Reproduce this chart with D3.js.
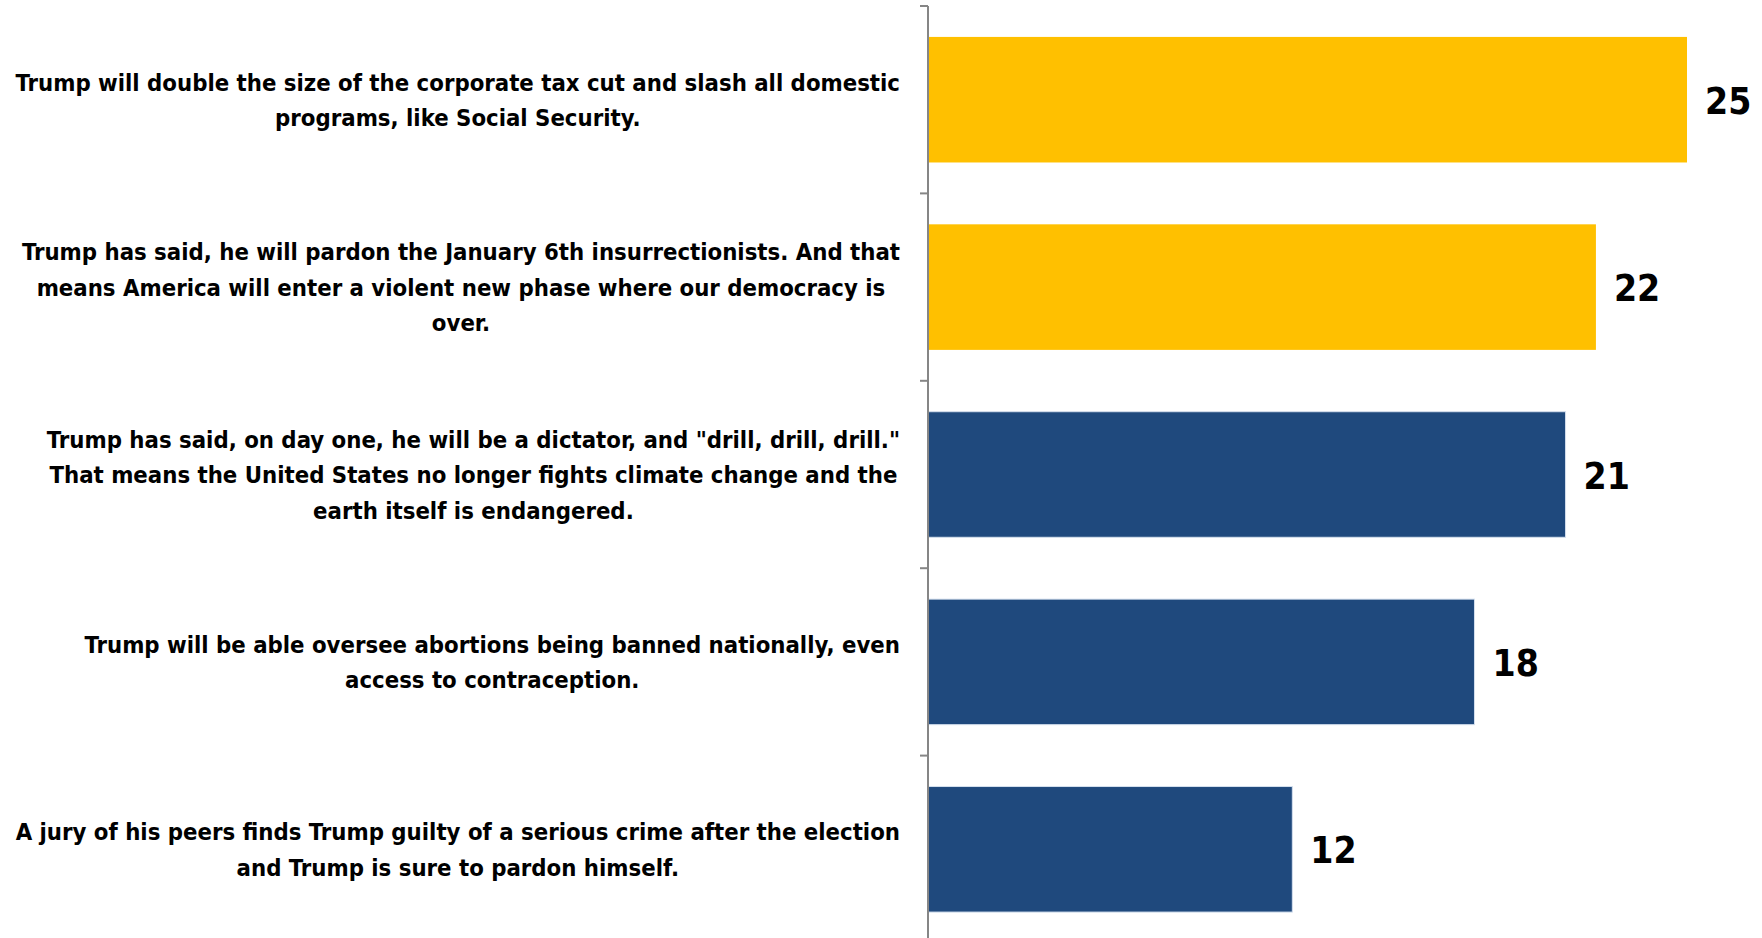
<!DOCTYPE html>
<html>
<head>
<meta charset="utf-8">
<script src="https://cdn.jsdelivr.net/npm/d3@7"></script>
<style>
  html, body { margin: 0; padding: 0; background: #fff; }
  svg { display: block; }
  .lbl { font-family: "DejaVu Sans Condensed", "DejaVu Sans", sans-serif; font-weight: bold; fill: #000; }
</style>
</head>
<body>
<svg id="chart" width="1762" height="938"></svg>
<script>
const categories = [
  "Trump will double the size of the corporate tax cut and slash all domestic programs, like Social Security.",
  "Trump has said, he will pardon the January 6th insurrectionists. And that means America will enter a violent new phase where our democracy is over.",
  "Trump has said, on day one, he will be a dictator, and \"drill, drill, drill.\" That means the United States no longer fights climate change and the earth itself is endangered.",
  "Trump will be able oversee abortions being banned nationally, even access to contraception.",
  "A jury of his peers finds Trump guilty of a serious crime after the election and Trump is sure to pardon himself."
];
const labelLines = [
  ["Trump will double the size of the corporate tax cut and slash all domestic", "programs, like Social Security."],
  ["Trump has said, he will pardon the January 6th insurrectionists. And that", "means America will enter a violent new phase where our democracy is", "over."],
  ["Trump has said, on day one, he will be a dictator, and \"drill, drill, drill.\"", "That means the United States no longer fights climate change and the", "earth itself is endangered."],
  ["Trump will be able oversee abortions being banned nationally, even", "access to contraception."],
  ["A jury of his peers finds Trump guilty of a serious crime after the election", "and Trump is sure to pardon himself."]
];
const values = [25, 22, 21, 18, 12];
const colors = ["#FFC000", "#FFC000", "#1F497D", "#1F497D", "#1F497D"];

const svg = d3.select("#chart");
const axisX = 928;
const plotTop = 6, plotBottom = 943;

const x = d3.scaleLinear().domain([0, 25]).range([axisX, 1687]);
const y = d3.scaleBand().domain(categories).range([plotTop, plotBottom]).paddingInner(0.33).paddingOuter(0.165);
const step = y.step();

// bars
svg.selectAll("rect.bar").data(categories).join("rect")
  .attr("class", "bar")
  .attr("x", x(0))
  .attr("y", d => y(d))
  .attr("width", (d, i) => x(values[i]) - x(0))
  .attr("height", y.bandwidth())
  .attr("fill", (d, i) => colors[i])
  .attr("stroke", (d, i) => colors[i] === "#FFC000" ? "none" : "#d5e0ee")
  .attr("stroke-width", 1);

// axis line and ticks at band boundaries
const axisG = svg.append("g");
axisG.append("line")
  .attr("x1", axisX).attr("x2", axisX)
  .attr("y1", plotTop).attr("y2", plotBottom)
  .attr("stroke", "#868686").attr("stroke-width", 2);
const boundaries = categories.map(c => y(c) - step * 0.165).concat([plotBottom]);
axisG.selectAll("line.tick").data(boundaries).join("line")
  .attr("class", "tick")
  .attr("x1", axisX - 8).attr("x2", axisX)
  .attr("y1", d => d).attr("y2", d => d)
  .attr("stroke", "#868686").attr("stroke-width", 2);

// value labels
svg.selectAll("text.val").data(categories).join("text")
  .attr("class", "lbl val")
  .attr("x", (d, i) => x(values[i]) + 18)
  .attr("y", d => y(d) + y.bandwidth() / 2)
  .attr("dy", "0.38em")
  .style("font-size", "37px")
  .text((d, i) => values[i]);

// category labels
const rightEdge = 900;
const lineH = 35.5;
const fs = 23.7;
categories.forEach((c, i) => {
  const lines = labelLines[i];
  const g = svg.append("g");
  const cy = y(c) + y.bandwidth() / 2;
  const texts = lines.map((ln, j) => g.append("text")
    .attr("class", "lbl")
    .style("font-size", fs + "px")
    .attr("text-anchor", "middle")
    .attr("y", cy + (j - (lines.length - 1) / 2) * lineH)
    .attr("dy", "0.37em")
    .text(ln));
  const maxW = d3.max(texts, t => t.node().getComputedTextLength());
  texts.forEach(t => t.attr("x", rightEdge - maxW / 2));
});
</script>
</body>
</html>
